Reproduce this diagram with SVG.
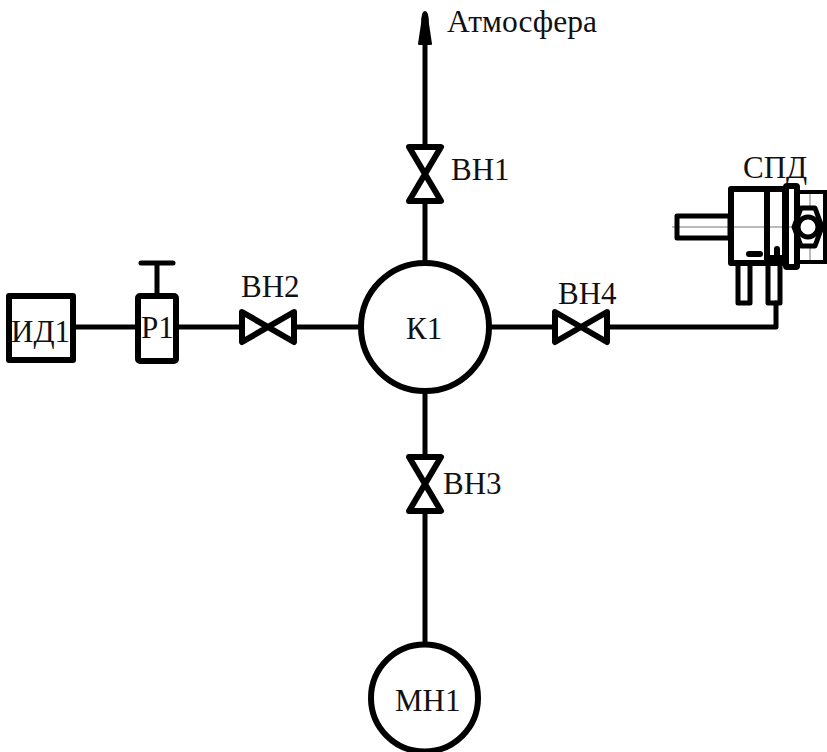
<svg xmlns="http://www.w3.org/2000/svg" width="827" height="752" viewBox="0 0 827 752">
<defs>
<style>
.l{fill:none;stroke:#000;stroke-width:5;stroke-linejoin:round;stroke-linecap:round}
.b{fill:none;stroke:#000;stroke-width:6;stroke-linejoin:round;stroke-linecap:round}
.t{fill:none;stroke:#000;stroke-width:4}
.g2{fill:none;stroke:#777;stroke-width:1}
text{font-family:"Liberation Serif","Times New Roman",serif;font-size:31px;fill:#111}
</style>
<polygon id="vh" class="b" points="-26,-15 26,15 26,-15 -26,15"/>
<polygon id="vv" class="b" points="-16,-27 16,27 -16,27 16,-27"/>
</defs>
<rect width="827" height="752" fill="#fff"/>
<g id="connectors">
<path class="l" d="M73 327H138M176 327H242M295 327H361M489 327H555M608 327H776V303"/>
<path class="l" d="M425 40V145M425 203V262M425 391V455M425 513V644"/>
<path d="M425 12C427 12 428 18 428 24L431 44H419L422 24C422 18 423 12 425 12Z" fill="#000" stroke="#000" stroke-width="2" stroke-linejoin="round"/>
</g>
<g id="atm"><text x="447" y="32" style="font-size:31.5px">Атмосфера</text></g>
<g id="vn1"><use href="#vv" x="425" y="174"/><text x="451" y="180">ВН1</text></g>
<g id="vn2"><use href="#vh" x="268" y="327"/><text x="241" y="297">ВН2</text></g>
<g id="vn3"><use href="#vv" x="425" y="484"/><text x="443" y="494">ВН3</text></g>
<g id="vn4"><use href="#vh" x="581" y="327"/><text x="558" y="304">ВН4</text></g>
<g id="k1"><circle class="b" cx="425" cy="327" r="64"/><text x="406" y="339">К1</text></g>
<g id="mn1"><circle class="b" cx="424.500" cy="698" r="53.500"/><text x="395" y="711">МН1</text></g>
<g id="id1"><rect class="b" x="9" y="296" width="64" height="64"/><text x="11" y="342">ИД1</text></g>
<g id="r1"><rect class="b" x="138" y="296" width="38" height="65" rx="2"/><path class="l" d="M141 263H173M157 263V296"/><text x="141" y="338">Р1</text></g>
<g id="spd">
<text x="743" y="178">СПД</text>
<path class="g2" d="M672 227H808M810 192V262"/>
<path class="t" d="M797 192H825V262H797"/>
<rect class="l" x="677" y="216" width="53" height="22"/>
<rect class="b" x="731" y="189" width="54" height="74"/>
<path class="b" d="M767 189V263"/>
<rect class="b" x="786" y="186" width="11" height="81" rx="1"/>
<polygon class="l" points="794,227 801,208 815,208 822,227 815,246 801,246" style="fill:#fff"/>
<circle class="l" cx="808" cy="227" r="10"/>
<rect class="l" x="738" y="263" width="12" height="40"/>
<rect class="l" x="768" y="263" width="12" height="40"/>
<path class="b" d="M749 254H760M770 258H783M777 249V263"/>
</g>
</svg>
